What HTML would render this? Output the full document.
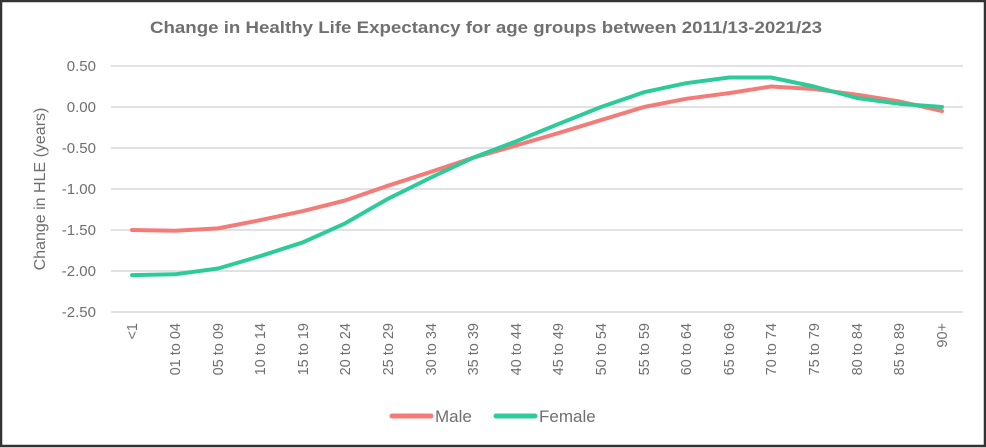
<!DOCTYPE html>
<html><head><meta charset="utf-8"><style>
html,body{margin:0;padding:0;background:#fff;}
svg{display:block;}
text{font-family:"Liberation Sans",sans-serif;fill:#6f6f6f;}
</style></head><body>
<svg width="986" height="448" viewBox="0 0 986 448" xmlns="http://www.w3.org/2000/svg">
<rect x="0" y="0" width="986" height="448" fill="#fff"/>
<rect x="1" y="1" width="984" height="445" fill="none" stroke="#333" stroke-width="2.5"/>
<text x="486" y="33" text-anchor="middle" font-size="16.5" font-weight="bold" textLength="672" lengthAdjust="spacingAndGlyphs" style="fill:#707070">Change in Healthy Life Expectancy for age groups between 2011/13-2021/23</text>
<g stroke="#d9d9d9" stroke-width="1.5">
<line x1="111" x2="963" y1="66" y2="66"/><line x1="111" x2="963" y1="107" y2="107"/>
<line x1="111" x2="963" y1="148" y2="148"/><line x1="111" x2="963" y1="189" y2="189"/>
<line x1="111" x2="963" y1="230" y2="230"/><line x1="111" x2="963" y1="271" y2="271"/>
<line x1="111" x2="963" y1="312" y2="312"/>
</g>
<g font-size="15" text-anchor="end">
<text x="96" y="71">0.50</text><text x="96" y="112">0.00</text><text x="96" y="153">-0.50</text>
<text x="96" y="194">-1.00</text><text x="96" y="235">-1.50</text><text x="96" y="276">-2.00</text>
<text x="96" y="317">-2.50</text>
</g>
<text transform="translate(45,189) rotate(-90)" text-anchor="middle" font-size="16">Change in HLE (years)</text>
<g font-size="14.5" text-anchor="end">
<text transform="translate(137,323) rotate(-90)">&lt;1</text>
<text transform="translate(180,323) rotate(-90)">01 to 04</text>
<text transform="translate(223,323) rotate(-90)">05 to 09</text>
<text transform="translate(265,323) rotate(-90)">10 to 14</text>
<text transform="translate(308,323) rotate(-90)">15 to 19</text>
<text transform="translate(350,323) rotate(-90)">20 to 24</text>
<text transform="translate(393,323) rotate(-90)">25 to 29</text>
<text transform="translate(436,323) rotate(-90)">30 to 34</text>
<text transform="translate(478,323) rotate(-90)">35 to 39</text>
<text transform="translate(521,323) rotate(-90)">40 to 44</text>
<text transform="translate(563,323) rotate(-90)">45 to 49</text>
<text transform="translate(606,323) rotate(-90)">50 to 54</text>
<text transform="translate(649,323) rotate(-90)">55 to 59</text>
<text transform="translate(691,323) rotate(-90)">60 to 64</text>
<text transform="translate(734,323) rotate(-90)">65 to 69</text>
<text transform="translate(776,323) rotate(-90)">70 to 74</text>
<text transform="translate(819,323) rotate(-90)">75 to 79</text>
<text transform="translate(862,323) rotate(-90)">80 to 84</text>
<text transform="translate(904,323) rotate(-90)">85 to 89</text>
<text transform="translate(947,323) rotate(-90)">90+</text>
</g>
<polyline fill="none" stroke="#f47c78" stroke-width="4" stroke-linejoin="round" stroke-linecap="round"
points="132,230 175,230.8 218,228.4 260,220.2 303,211.1 345,200.5 388,185.7 431,171.8 473,157.8 516,145.5 558,133.2 601,120.1 644,107 686,98.8 729,93.1 771,86.5 814,89 857,94.7 899,101.3 942,111.1"/>
<polyline fill="none" stroke="#2dcb9a" stroke-width="4" stroke-linejoin="round" stroke-linecap="round"
points="132,275.1 175,274.3 218,268.5 260,256.2 303,242.3 345,223.4 388,198.8 431,177.5 473,157.8 516,141.4 558,124.2 601,107 644,92.2 686,83.2 729,77.5 771,77.5 814,86.5 857,98 899,103.7 942,107"/>
<line x1="392" y1="416" x2="431" y2="416" stroke="#f47c78" stroke-width="5" stroke-linecap="round"/>
<text x="435" y="422" font-size="17">Male</text>
<line x1="496" y1="416" x2="535" y2="416" stroke="#2dcb9a" stroke-width="5" stroke-linecap="round"/>
<text x="539" y="422" font-size="17">Female</text>
</svg>
</body></html>
